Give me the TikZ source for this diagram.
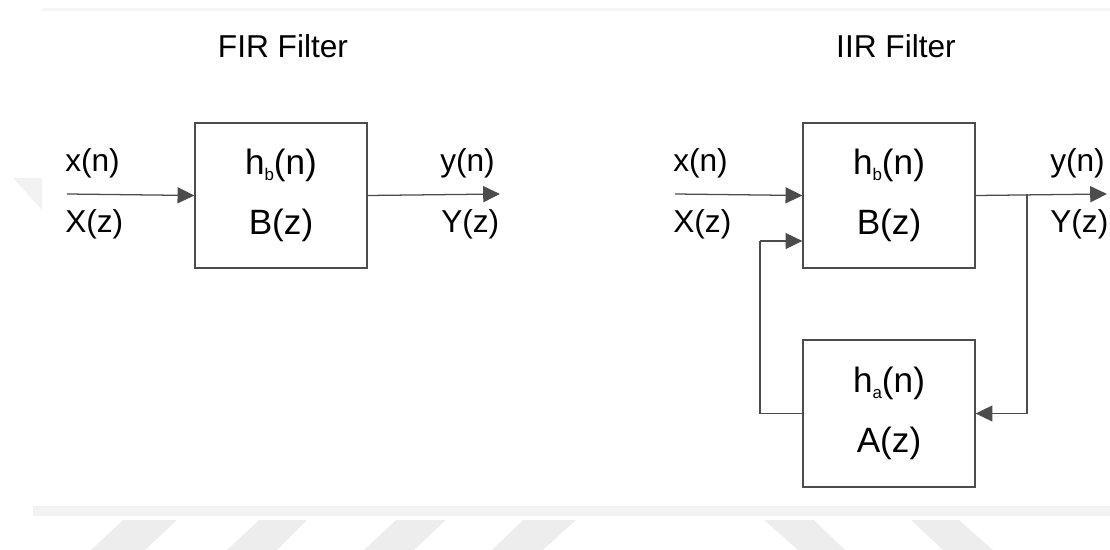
\documentclass[tikz,border=0pt]{standalone}
\usepackage{fontspec}
\setmainfont{Liberation Sans}
\usetikzlibrary{arrows.meta}
\newcommand{\filtsub}[1]{\raisebox{-4.5pt}{\fontsize{12}{12}\selectfont #1}}

\begin{document}
\begin{tikzpicture}[x=0.025cm,y=-0.025cm,
    font=\fontsize{22.5}{27}\selectfont,
    block/.style={draw=black!70,line width=0.9pt,minimum width=4.3cm,minimum height=3.625cm,
      align=center,inner sep=0pt,font=\fontsize{25}{42.7}\selectfont},
    sig/.style={draw=black!70,line width=0.9pt,-{Triangle[length=0.42cm,width=0.4cm]}},
    wire/.style={draw=black!70,line width=0.9pt},
    lbl/.style={anchor=base west,inner sep=0pt},
    title/.style={anchor=base,inner sep=0pt},
    wmark/.style={fill=black!7,draw=none}]
  \useasboundingbox (0,0) rectangle (1110,550);

  % page decoration
  \fill[black!4] (42,8) rectangle (1110,11);
  \fill[black!5] (33,506) rectangle (1110,516);
  \fill[black!5] (13,178) -- (42,178) -- (42,210) -- cycle;
  \fill[wmark] (123,520) -- (177,520) -- (145,550) -- (91,550) -- cycle;
  \fill[wmark] (259,520) -- (307,520) -- (277,550) -- (227,550) -- cycle;
  \fill[wmark] (396,520) -- (446,520) -- (414,550) -- (364,550) -- cycle;
  \fill[wmark] (523,520) -- (576,520) -- (543,550) -- (492,550) -- cycle;
  \fill[wmark] (764,520) -- (814,520) -- (845,550) -- (798,550) -- cycle;
  \fill[wmark] (911,520) -- (959,520) -- (993,550) -- (943,550) -- cycle;

  % FIR
  \node[title] (firtitle) at (283,58) {FIR Filter};
  \node[block] (fir) at (281,195.5) {h\filtsub{b}(n)\\B(z)};
  \coordinate (firin) at (67,194);
  \coordinate (firout) at (500,194);
  \draw[sig] (firin) -- (fir.west);
  \draw[sig] (fir.east) -- (firout);
  \node[lbl] (firx) at (65,172) {x(n)};
  \node[lbl] (firX) at (65,233) {X(z)};
  \node[lbl] (firy) at (440,172) {y(n)};
  \node[lbl] (firY) at (441,233) {Y(z)};

  % IIR
  \node[title] (iirtitle) at (896,58) {IIR Filter};
  \node[block] (iirb) at (889,195.5) {h\filtsub{b}(n)\\B(z)};
  \node[block,minimum height=3.675cm] (iira) at (889,413.5) {h\filtsub{a}(n)\\A(z)};
  \coordinate (iirin) at (675,194);
  \coordinate (iirout) at (1107,194);
  \coordinate (tap) at (1027,194);
  \coordinate (fb) at (760,241);
  \draw[sig] (iirin) -- (iirb.west);
  \draw[sig] (iirb.east) -- (iirout);
  \draw[sig] (tap) |- (iira.east);
  \draw[wire] (iira.west) -| (fb);
  \draw[sig] (fb) -- (iirb.west |- fb);
  \node[lbl] (iirx) at (673,172) {x(n)};
  \node[lbl] (iirX) at (673,233) {X(z)};
  \node[lbl] (iiry) at (1050,172) {y(n)};
  \node[lbl] (iirY) at (1050,233) {Y(z)};
\end{tikzpicture}
\end{document}
